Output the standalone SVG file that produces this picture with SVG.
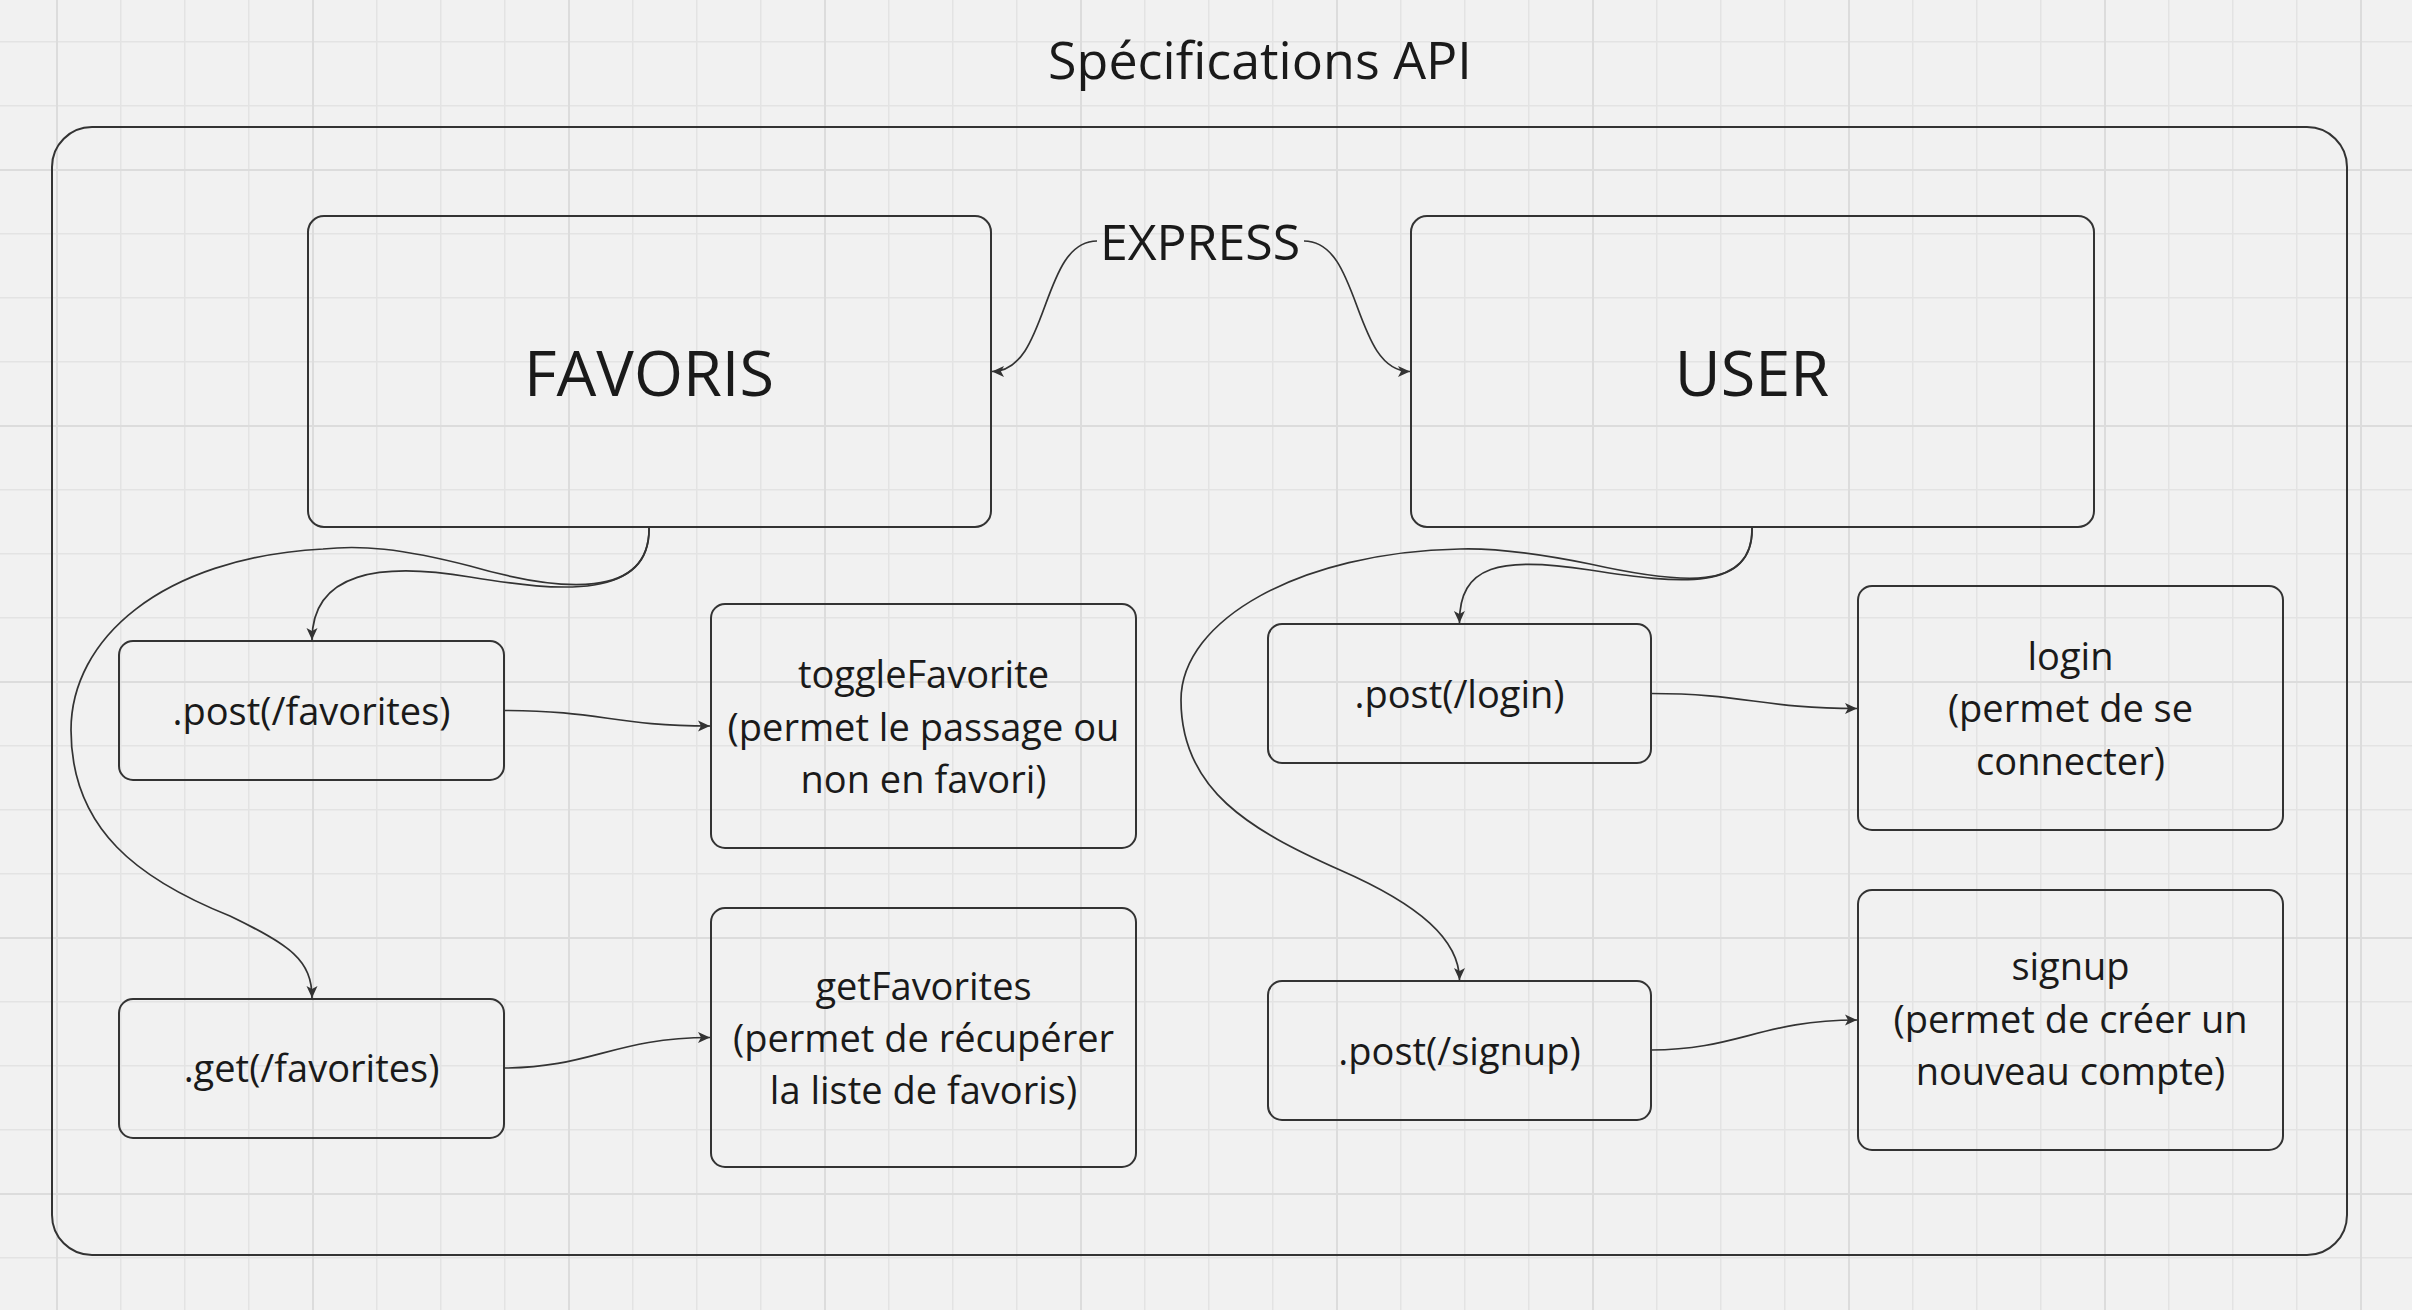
<svg xmlns="http://www.w3.org/2000/svg" width="2412" height="1310" viewBox="0 0 2412 1310">
<defs>
<pattern id="grid" x="56" y="41" width="64" height="64" patternUnits="userSpaceOnUse"><path d="M0,0 V64 M0,0 H64" fill="none" stroke="#e3e3e3" stroke-width="3"/></pattern>
<pattern id="gridMajor" x="312" y="169" width="256" height="256" patternUnits="userSpaceOnUse"><path d="M0,0 V256 M0,0 H256" fill="none" stroke="#dcdcdc" stroke-width="4"/></pattern>
<marker id="arr" markerUnits="userSpaceOnUse" markerWidth="14" markerHeight="14" refX="12" refY="6" orient="auto"><path d="M0,0.5 L12,6 L0,11.5 L3,6 Z" fill="#333333"/></marker>
<style>
.box{fill:none;stroke:#333333;stroke-width:2}
.con{fill:none;stroke:#333333;stroke-width:1.7;marker-end:url(#arr)}
.t{font-family:"Open Sans","Noto Sans","Liberation Sans",sans-serif;fill:#1a1a1a;text-anchor:middle}
.big{font-size:63px}
.mid{font-size:50px}
.title{font-size:52px}
.sm{font-size:38px}
</style>
</defs>
<rect width="2412" height="1310" fill="#f1f1f1"/>
<rect width="2412" height="1310" fill="url(#grid)"/>
<rect width="2412" height="1310" fill="url(#gridMajor)"/>

<text class="t title" x="1260" y="79">Spécifications API</text>

<g id="container"><rect class="box" x="52" y="127" width="2295" height="1128" rx="40"/></g>

<g id="express"><text class="t mid" x="1200" y="260">EXPRESS</text></g>

<g id="favoris"><rect class="box" x="308" y="216" width="683" height="311" rx="16"/><text class="t big" x="649" y="396">FAVORIS</text></g>
<g id="user"><rect class="box" x="1411" y="216" width="683" height="311" rx="16"/><text class="t big" x="1752" y="396">USER</text></g>

<g id="post-favorites"><rect class="box" x="119" y="641" width="385" height="139" rx="14"/><text class="t sm" x="311.5" y="725">.post(/favorites)</text></g>
<g id="get-favorites"><rect class="box" x="119" y="999" width="385" height="139" rx="14"/><text class="t sm" x="311.5" y="1082">.get(/favorites)</text></g>

<g id="toggleFavorite"><rect class="box" x="711" y="604" width="425" height="244" rx="14"/><text class="t sm" x="923.5" y="688">toggleFavorite</text><text class="t sm" x="923.5" y="740.5">(permet le passage ou</text><text class="t sm" x="923.5" y="793">non en favori)</text></g>
<g id="getFavorites"><rect class="box" x="711" y="908" width="425" height="259" rx="14"/><text class="t sm" x="923.5" y="1000">getFavorites</text><text class="t sm" x="923.5" y="1052">(permet de récupérer</text><text class="t sm" x="923.5" y="1104">la liste de favoris)</text></g>

<g id="post-login"><rect class="box" x="1268" y="624" width="383" height="139" rx="14"/><text class="t sm" x="1459.5" y="708">.post(/login)</text></g>
<g id="post-signup"><rect class="box" x="1268" y="981" width="383" height="139" rx="14"/><text class="t sm" x="1459.5" y="1065">.post(/signup)</text></g>

<g id="login"><rect class="box" x="1858" y="586" width="425" height="244" rx="14"/><text class="t sm" x="2070.5" y="670">login</text><text class="t sm" x="2070.5" y="722">(permet de se</text><text class="t sm" x="2070.5" y="774.5">connecter)</text></g>
<g id="signup"><rect class="box" x="1858" y="890" width="425" height="260" rx="14"/><text class="t sm" x="2070.5" y="980">signup</text><text class="t sm" x="2070.5" y="1032.5">(permet de créer un</text><text class="t sm" x="2070.5" y="1085">nouveau compte)</text></g>

<g id="connectors">
<path class="con" d="M1097,241 C1040,241 1050,371.5 992,371.5"/>
<path class="con" d="M1304,241 C1362,241 1352,371.5 1410,371.5"/>
<path class="con" d="M649,527 C651,600 560,592 470,577 C380,562 312,572 312,640"/>
<path class="con" d="M649,527 C651,600 560,592 470,566 C400,548 360,545 323,549 C160,558 71,640 71,730 C71,830 140,880 230,916 C290,945 312,960 312,998"/>
<path class="con" d="M1752,527 C1754,592 1680,584 1590,570 C1500,556 1459,565 1459.5,623"/>
<path class="con" d="M1752,527 C1754,592 1680,584 1590,564 C1530,552 1490,548 1460,549 C1300,552 1181,620 1181,700 C1181,790 1250,830 1340,870 C1420,905 1459.5,940 1459.5,980"/>
<path class="con" d="M504,710.5 C600,710.5 615,726 710,726"/>
<path class="con" d="M504,1068 C590,1068 615,1037.5 710,1037.5"/>
<path class="con" d="M1651,693.5 C1745,693.5 1762,708.5 1857,708.5"/>
<path class="con" d="M1651,1050 C1737,1050 1762,1020 1857,1020"/>
</g>
</svg>
